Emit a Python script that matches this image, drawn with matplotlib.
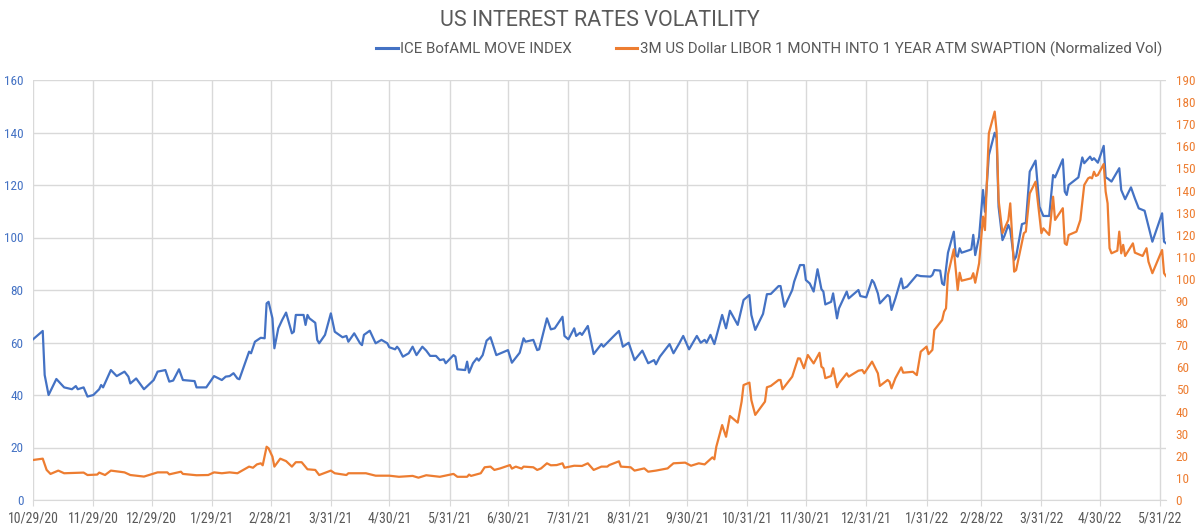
import matplotlib
matplotlib.use('Agg')
import matplotlib.pyplot as plt
from matplotlib import font_manager
from matplotlib.lines import Line2D
import pandas as pd

# ---------------- data ----------------
start_date = '2020-10-29'
move_day = [0,5,6,8,12,16,20,22,23,26,28,31,34,35,36,40,43,47,49,50,53,57,62,64,68,70,72,75,77,83,84,89,93,97,99,101,103,105,106,111,112,114,117,119,120,121,123,124,126,128,130,133,134,135,139,140,141,142,145,146,147,150,153,155,159,161,162,165,168,169,170,173,176,179,182,183,186,187,188,190,193,195,197,200,202,204,207,209,211,212,216,217,218,222,223,224,226,228,229,231,233,235,238,244,246,250,252,253,257,259,260,264,266,268,272,273,275,278,279,281,282,285,288,292,293,298,301,303,306,309,313,316,319,320,322,324,327,329,332,334,337,341,343,345,346,348,350,354,356,358,362,365,368,369,371,375,377,379,383,384,386,390,391,394,396,397,399,401,403,405,406,407,410,411,413,414,418,419,424,425,428,431,432,434,435,439,440,441,443,446,447,449,454,456,461,462,463,466,467,468,470,473,474,475,476,477,481,482,483,484,486,488,489,491,494,495,496,498,499,501,502,504,505,508,510,512,515,517,519,522,524,525,529,530,531,532,537,539,540,543,544,545,547,550,551,552,554,558,559,561,564,566,568,571,575,580,581,582]
move_val = [61.2,64.4,47.6,40.0,46.1,42.9,42.2,43.4,42.2,42.9,39.4,40.0,42.2,43.8,42.9,49.5,47.2,48.9,47.0,44.4,46.3,42.2,45.7,48.9,49.5,45.1,45.5,49.8,45.7,45.3,42.9,42.9,47.2,45.7,47.0,47.2,48.3,46.3,46.0,56.5,55.9,60.3,61.8,61.6,74.9,75.5,69.2,57.8,65.4,68.6,71.4,63.5,64.1,70.5,70.5,66.7,70.5,69.2,67.5,61.0,59.7,62.9,71.1,64.1,62.0,62.5,60.3,63.5,59.7,59.0,62.9,64.5,59.7,61.0,59.7,58.2,57.4,58.4,57.5,54.6,55.9,58.4,55.2,58.4,56.9,54.9,54.9,53.3,53.6,52.1,55.2,54.6,49.8,49.5,52.7,48.5,52.1,54.0,53.1,55.2,60.7,62.0,55.2,57.1,52.3,56.1,61.6,60.3,61.0,57.1,57.4,69.2,65.0,65.4,69.8,62.5,61.2,65.4,62.5,63.7,62.9,66.3,55.6,59.4,58.4,62.2,64.4,58.4,59.9,53.3,56.9,52.1,53.3,51.7,54.6,56.5,59.4,55.9,59.7,62.5,57.4,62.5,59.9,61.0,59.9,62.9,59.4,70.5,65.4,72.1,66.7,76.2,78.1,70.5,64.8,70.9,78.4,78.5,81.5,81.5,73.6,80.0,83.2,89.5,89.5,83.8,82.5,79.4,87.9,80.3,79.4,74.5,75.5,78.7,69.2,73.0,79.4,76.8,80.0,77.7,77.2,83.8,82.8,78.7,74.9,78.1,77.5,72.4,76.8,84.4,80.6,81.3,85.7,85.3,85.1,85.7,87.6,87.4,82.5,81.9,94.2,102.2,93.3,92.7,95.9,94.2,95.2,95.5,101.0,93.3,100.3,118.1,109.8,131.4,139.9,137.8,111.7,99.0,100.6,104.8,102.9,91.4,92.7,105.1,105.6,125.1,129.3,111.7,108.2,108.2,123.8,122.9,129.8,117.5,116.2,120.0,122.9,130.5,128.3,130.8,129.5,130.2,128.5,134.9,122.9,122.5,121.3,126.4,118.1,114.6,119.1,114.9,111.1,110.2,98.4,109.2,98.4,97.8]

swpt_day = [0,5,7,9,13,16,26,28,33,34,37,40,47,50,57,64,69,70,76,77,84,90,93,97,101,105,111,113,115,117,118,120,121,123,124,127,130,133,135,138,141,145,147,153,155,161,162,167,171,176,183,188,195,198,202,209,216,218,223,224,225,230,232,235,237,240,245,246,248,251,252,257,259,261,264,266,269,272,273,278,282,285,288,292,295,296,301,302,307,309,314,316,320,326,327,329,335,338,342,345,349,350,351,354,356,358,362,364,365,368,369,371,376,377,379,383,384,385,390,393,394,396,398,401,404,405,406,407,410,411,413,414,418,419,424,426,427,431,434,435,439,440,441,443,446,447,452,454,456,459,460,462,463,467,468,469,470,473,475,476,477,482,483,484,486,488,489,491,494,495,496,498,501,502,503,504,505,509,510,512,515,518,519,522,524,525,529,530,531,532,536,538,540,542,543,544,545,546,547,550,551,552,553,554,557,558,559,560,561,565,566,570,572,573,575,580,581,582]
swpt_val = [18.1,18.7,13.6,11.8,13.3,12.1,12.4,11.3,11.5,12.4,11.3,13.3,12.5,11.3,10.6,12.5,12.5,11.6,12.8,11.8,11.2,11.3,12.5,12.1,12.5,12.1,15.1,14.6,16.1,16.6,15.7,24.1,23.4,19.6,15.1,18.7,17.6,15.1,17.1,17.1,13.9,13.6,11.3,13.3,12.1,11.3,12.1,12.1,12.1,11.0,11.0,10.5,10.9,10.1,11.2,10.5,11.8,10.5,10.5,11.5,10.9,12.1,14.8,15.1,13.6,14.3,15.8,14.2,15.1,14.2,15.1,14.8,13.6,14.3,16.6,15.7,15.8,16.6,14.6,15.5,15.4,16.6,13.6,15.1,15.1,15.8,17.5,15.1,14.8,13.3,14.3,12.8,13.3,14.3,15.1,16.6,16.9,15.5,16.6,16.1,19.3,18.4,24.1,33.9,28.6,38.0,35.0,44.5,52.0,53.1,45.2,38.5,44.5,51.0,51.6,54.3,54.3,50.1,55.8,64.1,64.0,59.6,65.6,61.8,66.6,60.3,59.6,55.1,56.1,59.6,51.0,52.8,57.3,55.8,58.5,58.8,57.3,62.6,57.3,51.6,54.3,53.5,50.5,55.1,60.0,57.6,58.0,56.5,67.1,69.4,66.0,67.9,76.9,81.4,85.2,86.7,102.0,113.4,95.0,102.8,99.2,100.3,102.6,98.3,107.1,128.2,122.1,165.9,175.7,166.6,135.7,120.7,126.7,134.2,119.1,103.3,104.0,120.7,121.4,138.7,144.0,120.7,122.9,119.9,137.2,126.7,132.0,116.1,115.4,119.9,121.4,126.7,142.5,145.5,146.0,145.5,148.5,146.6,147.0,152.0,139.5,134.2,113.9,111.6,112.8,121.4,111.6,115.4,110.4,116.1,111.9,110.4,113.9,107.8,102.6,113.1,102.6,101.3]

x_tick_labels = ['10/29/20','11/29/20','12/29/20','1/29/21','2/28/21','3/31/21','4/30/21',
                 '5/31/21','6/30/21','7/31/21','8/31/21','9/30/21','10/31/21','11/30/21',
                 '12/31/21','1/31/22','2/28/22','3/31/22','4/30/22','5/31/22']
left_ticks = list(range(0, 161, 20))
right_ticks = list(range(0, 191, 10))

title = 'US INTEREST RATES VOLATILITY'
move_name = 'ICE BofAML MOVE INDEX'
swpt_name = '3M US Dollar LIBOR 1 MONTH INTO 1 YEAR ATM SWAPTION (Normalized Vol)'

# ---------------- font ----------------
def pick_font():
    tl = font_manager.fontManager.ttflist
    names = {f.name for f in tl}
    for cand in ['Roboto Condensed', 'Liberation Sans Narrow', 'Open Sans Condensed', 'Noto Sans Condensed']:
        if cand in names:
            return cand, 'normal'
    if any(f.name == 'DejaVu Sans' and 'condensed' in str(f.stretch) for f in tl):
        return 'DejaVu Sans', 'condensed'
    return 'Roboto', 'normal'

FONT, STRETCH = pick_font()
plt.rcParams['font.family'] = [FONT, 'DejaVu Sans']
plt.rcParams['font.stretch'] = STRETCH
HEAD_FONT = ['Roboto', 'DejaVu Sans']

BLUE = '#4472C4'
ORANGE = '#ED7D31'
GRAY = '#595959'
GRID = '#D9D9D9'

t0 = pd.Timestamp(start_date)
move_x = t0 + pd.to_timedelta(move_day, unit='D')
swpt_x = t0 + pd.to_timedelta(swpt_day, unit='D')
tick_x = pd.to_datetime(x_tick_labels, format='%m/%d/%y')

fig = plt.figure(figsize=(12, 5.28), dpi=100)
ax = fig.add_axes([33/1200, 28/528, (1166-33)/1200, 420/528])
ax2 = ax.twinx()

ax.plot(move_x, move_val, color=BLUE, lw=1.6, solid_joinstyle='round')
ax2.plot(swpt_x, swpt_val, color=ORANGE, lw=1.6, solid_joinstyle='round')

ax.set_xlim(t0, t0 + pd.Timedelta(days=582))
ax.set_ylim(0, 160)
ax2.set_ylim(0, 190)
ax.set_yticks(left_ticks)
ax2.set_yticks(right_ticks)
ax.set_xticks(tick_x)
ax.set_xticklabels(x_tick_labels)

ax.set_axisbelow(True)
ax.grid(True, color=GRID, lw=1)
for s in ['top', 'right', 'left']:
    ax.spines[s].set_visible(False)
ax.spines['bottom'].set_color(GRID)
for s in ax2.spines.values():
    s.set_visible(False)

ax.tick_params(axis='x', colors=GRID, labelcolor=GRAY, labelsize=10, length=4, pad=4)
ax.tick_params(axis='y', labelcolor=BLUE, labelsize=9.5, length=0, pad=7)
ax2.tick_params(axis='y', labelcolor=ORANGE, labelsize=9.5, length=0, pad=7)

# fit heading font sizes to the widths of the reference texts
renderer = fig.canvas.get_renderer()
def fitted_size(text, target_px, base=10.0):
    t = fig.text(0, 0, text, fontsize=base, family=HEAD_FONT, stretch='normal')
    w = t.get_window_extent(renderer).width
    t.remove()
    return base * target_px / w

title_fs = fitted_size(title, 320)
legend_fs = fitted_size(move_name, 172)

fig.text(600/1200, 1 - 21/528, title, ha='center', va='center', fontsize=title_fs,
         color=GRAY, family=HEAD_FONT, stretch='normal')

handles = [Line2D([0], [0], color=BLUE, lw=2.2), Line2D([0], [0], color=ORANGE, lw=2.2)]
leg = fig.legend(handles, [move_name, swpt_name], loc='center', bbox_to_anchor=(769/1200, 1 - 49/528),
                 ncol=2, frameon=False, labelcolor=GRAY,
                 prop={'family': HEAD_FONT, 'size': legend_fs, 'stretch': 'normal'},
                 handlelength=1.45, handletextpad=0.15, columnspacing=2.9)

fig.savefig('out.png', dpi=100)
